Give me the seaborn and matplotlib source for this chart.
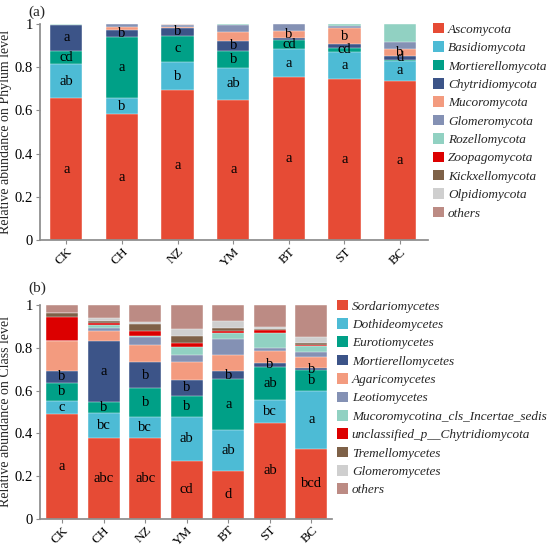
import matplotlib
matplotlib.use("Agg")
import matplotlib.pyplot as plt
from matplotlib.patches import Patch
import numpy as np
import pandas as pd
import seaborn as sns

samples = ["CK", "CH", "NZ", "YM", "BT", "ST", "BC"]

# phylum level
phyla = ["Ascomycota", "Basidiomycota", "Mortierellomycota", "Chytridiomycota",
         "Mucoromycota", "Glomeromycota", "Rozellomycota", "Zoopagomycota",
         "Kickxellomycota", "Olpidiomycota", "others"]
ascomycota = [0.656, 0.582, 0.694, 0.650, 0.753, 0.745, 0.738]
basidiomycota = [0.159, 0.074, 0.130, 0.146, 0.131, 0.127, 0.092]
mortierellomycota = [0.060, 0.285, 0.122, 0.081, 0.042, 0.018, 0.003]
chytridiomycota = [0.123, 0.031, 0.037, 0.046, 0.011, 0.019, 0.020]
mucoromycota = [0.000, 0.013, 0.005, 0.040, 0.031, 0.071, 0.031]
glomeromycota = [0.000, 0.015, 0.006, 0.031, 0.032, 0.011, 0.031]
rozellomycota = [0.002, 0.000, 0.000, 0.006, 0.000, 0.009, 0.085]
zoopagomycota = [0.000, 0.000, 0.002, 0.000, 0.000, 0.000, 0.000]
kickxellomycota = [0.000, 0.000, 0.002, 0.000, 0.000, 0.000, 0.000]
olpidiomycota = [0.000, 0.000, 0.000, 0.000, 0.000, 0.000, 0.000]
others_phylum = [0.000, 0.000, 0.002, 0.000, 0.000, 0.000, 0.000]

# class level
classes = ["Sordariomycetes", "Dothideomycetes", "Eurotiomycetes", "Mortierellomycetes",
           "Agaricomycetes", "Leotiomycetes", "Mucoromycotina_cls_Incertae_sedis",
           "unclassified_p__Chytridiomycota", "Tremellomycetes", "Glomeromycetes", "others"]
sordariomycetes = [0.489, 0.379, 0.379, 0.271, 0.225, 0.449, 0.325]
dothideomycetes = [0.063, 0.116, 0.095, 0.206, 0.191, 0.105, 0.275]
eurotiomycetes = [0.083, 0.053, 0.138, 0.097, 0.236, 0.158, 0.098]
mortierellomycetes = [0.058, 0.283, 0.121, 0.076, 0.041, 0.018, 0.006]
agaricomycetes = [0.140, 0.046, 0.080, 0.085, 0.075, 0.055, 0.055]
leotiomycetes = [0.000, 0.016, 0.038, 0.032, 0.074, 0.016, 0.020]
mucoromycotina = [0.000, 0.012, 0.006, 0.037, 0.029, 0.070, 0.028]
unclassified_chytrid = [0.112, 0.011, 0.020, 0.017, 0.006, 0.011, 0.007]
tremellomycetes = [0.017, 0.010, 0.035, 0.036, 0.016, 0.008, 0.011]
glomeromycetes = [0.000, 0.016, 0.008, 0.033, 0.032, 0.009, 0.026]
others_class = [0.038, 0.058, 0.080, 0.110, 0.075, 0.101, 0.149]

# significance letters: (segment index, letter) per sample
phylum_letters = [
    [(0, "a"), (1, "ab"), (2, "cd"), (3, "a")],
    [(0, "a"), (1, "b"), (2, "a"), (3, "b")],
    [(0, "a"), (1, "b"), (2, "c"), (3, "b")],
    [(0, "a"), (1, "ab"), (2, "b"), (3, "b")],
    [(0, "a"), (1, "a"), (2, "cd"), (4, "b")],
    [(0, "a"), (1, "a"), (2, "cd"), (4, "b")],
    [(0, "a"), (1, "a"), (3, "d"), (4, "b")],
]
class_letters = [
    [(0, "a"), (1, "c"), (2, "b"), (3, "b")],
    [(0, "abc"), (1, "bc"), (2, "b"), (3, "a")],
    [(0, "abc"), (1, "bc"), (2, "b"), (3, "b")],
    [(0, "cd"), (1, "ab"), (2, "b"), (3, "b")],
    [(0, "d"), (1, "ab"), (2, "a"), (3, "b")],
    [(0, "ab"), (1, "bc"), (2, "ab"), (3, "b")],
    [(0, "bcd"), (1, "a"), (2, "b"), (3, "b")],
]

colors = ["#E64B35", "#4DBBD5", "#00A087", "#3C5488", "#F39B7F", "#8491B4",
          "#91D1C2", "#DC0000", "#7E6148", "#CFCFCF", "#BC8B84"]

phylum_data = [ascomycota, basidiomycota, mortierellomycota, chytridiomycota, mucoromycota,
               glomeromycota, rozellomycota, zoopagomycota, kickxellomycota, olpidiomycota,
               others_phylum]
class_data = [sordariomycetes, dothideomycetes, eurotiomycetes, mortierellomycetes,
              agaricomycetes, leotiomycetes, mucoromycotina, unclassified_chytrid,
              tremellomycetes, glomeromycetes, others_class]

sns.set_theme(style="ticks")
plt.rcParams["font.family"] = ["Liberation Serif", "DejaVu Serif"]

fig = plt.figure(figsize=(5.5, 5.47), dpi=100)
ax1 = fig.add_axes([0.073, 0.561, 0.705, 0.395])
ax2 = fig.add_axes([0.073, 0.052, 0.531, 0.39])


def stacked(ax, names, data, letters, width, ylabel):
    df = pd.DataFrame(np.array(data).T, columns=names)
    df["sample"] = samples
    cum = df[names].cumsum(axis=1)
    # draw from the top layer down so lower layers sit in front
    for i in range(len(names) - 1, -1, -1):
        sns.barplot(x=df["sample"], y=cum[names[i]], color=colors[i], width=width,
                    ax=ax, saturation=1, edgecolor="white", linewidth=0.3)
    for j, labs in enumerate(letters):
        for seg, txt in labs:
            top = cum.iloc[j, seg]
            low = top - df[names[seg]].iloc[j]
            ax.text(j, (top + low) / 2, txt, ha="center", va="center",
                    fontsize=10.5, color="black")
    ax.set_ylim(0, 1.0)
    ax.set_yticks([0, 0.2, 0.4, 0.6, 0.8, 1.0])
    ax.set_yticklabels(["0", "0.2", "0.4", "0.6", "0.8", "1"], fontsize=10.5)
    ax.set_xlabel("")
    ax.set_ylabel(ylabel, fontsize=10, labelpad=2)
    plt.setp(ax.get_xticklabels(), rotation=45, ha="right", rotation_mode="anchor",
             fontsize=9.5)
    sns.despine(ax=ax)
    for s in ["left", "bottom"]:
        ax.spines[s].set_color("#8c8c8c")
    ax.tick_params(colors="black", length=3, width=0.8, pad=2)
    ax.tick_params(axis="x", pad=1)
    ax.tick_params(axis="both", color="#8c8c8c")


stacked(ax1, phyla, phylum_data, phylum_letters, 0.58, "Relative abundance on Phylum level")
stacked(ax2, classes, class_data, class_letters, 0.77, "Relative abundance on Class level")
ax1.set_xlim(-0.47, 6.5)
ax2.set_xlim(-0.53, 6.5)

fig.text(0.051, 0.978, "(a)", fontsize=11, va="center")
fig.text(0.051, 0.473, "(b)", fontsize=11, va="center")

legend_font = {"family": ["Liberation Serif", "DejaVu Serif"], "style": "italic", "size": 9.5}
h1 = [Patch(facecolor=c, edgecolor="none", label=n) for c, n in zip(colors, phyla)]
fig.legend(handles=h1, loc="upper left", bbox_to_anchor=(0.787, 0.958), frameon=False,
           prop=legend_font, handlelength=0.85, handleheight=0.85, handletextpad=0.3,
           labelspacing=0.42, borderpad=0, borderaxespad=0)
h2 = [Patch(facecolor=c, edgecolor="none", label=n) for c, n in zip(colors, classes)]
fig.legend(handles=h2, loc="upper left", bbox_to_anchor=(0.612, 0.452), frameon=False,
           prop=legend_font, handlelength=0.85, handleheight=0.85, handletextpad=0.3,
           labelspacing=0.42, borderpad=0, borderaxespad=0)

fig.savefig("out.png", dpi=100)
